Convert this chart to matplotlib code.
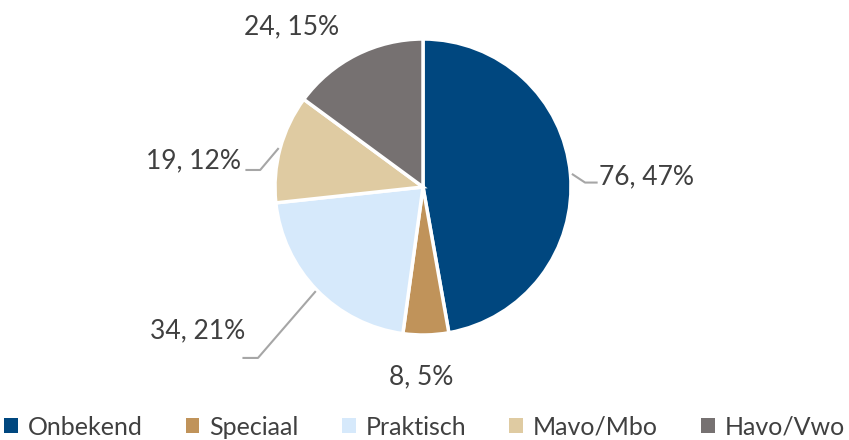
import numpy as np
import matplotlib.pyplot as plt
from matplotlib.patches import Patch

plt.rcParams['font.family'] = ['Lato', 'DejaVu Sans']

# data
categories = ['Onbekend', 'Speciaal', 'Praktisch', 'Mavo/Mbo', 'Havo/Vwo']
counts = [76, 8, 34, 19, 24]
colors = ['#00477F', '#C0935A', '#D6E9FB', '#DFCBA2', '#767171']

text_color = '#404040'
line_color = '#A6A6A6'

W, H = 849, 440
R_PX = 148.0
cx, cy = 423, 187  # pie centre in pixels (from top)

fig = plt.figure(figsize=(W / 100, H / 100), dpi=100)
ax = fig.add_axes([0, 0, 1, 1])

wedges, _ = ax.pie(counts, colors=colors, startangle=90, counterclock=False,
                   radius=1.0, wedgeprops=dict(edgecolor='white', linewidth=2.5))

ax.set_xlim(-cx / R_PX, (W - cx) / R_PX)
ax.set_ylim(-(H - cy) / R_PX, cy / R_PX)
ax.set_aspect('auto')
ax.axis('off')

total = sum(counts)
labels = [f"{c}, {round(100 * c / total)}%" for c in counts]

# label placement (offset from centre in radius units) and alignment
label_pos = [(1.19, 0.07, 'left'), (-0.01, -1.28, 'center'), (-1.20, -0.97, 'right'),
             (-1.23, 0.18, 'right'), (-0.89, 1.08, 'center')]
# leader lines: elbow and end, None = no line
leaders = [((1.095, 0.03), (1.18, 0.03)), None, ((-1.115, -1.155), (-1.22, -1.155)),
           ((-1.10, 0.115), (-1.20, 0.115)), None]

for w, lab, (lx, ly, ha), ld in zip(wedges, labels, label_pos, leaders):
    ax.text(lx, ly, lab, ha=ha, va='center', fontsize=19, color=text_color)
    if ld is not None:
        mid = np.deg2rad((w.theta1 + w.theta2) / 2)
        sx, sy = 1.01 * np.cos(mid), 1.01 * np.sin(mid)
        ax.plot([sx, ld[0][0], ld[1][0]], [sy, ld[0][1], ld[1][1]],
                color=line_color, lw=1.5, solid_capstyle='butt')

handles = [Patch(facecolor=c, edgecolor='none') for c in colors]
fig.legend(handles, categories, loc='center', bbox_to_anchor=(0.5, 1 - 427 / H),
           ncol=5, frameon=False, fontsize=18, labelcolor=text_color,
           handlelength=0.55, handleheight=0.55, handletextpad=0.4,
           columnspacing=1.72, borderaxespad=0)

fig.savefig('out.png', dpi=100)
